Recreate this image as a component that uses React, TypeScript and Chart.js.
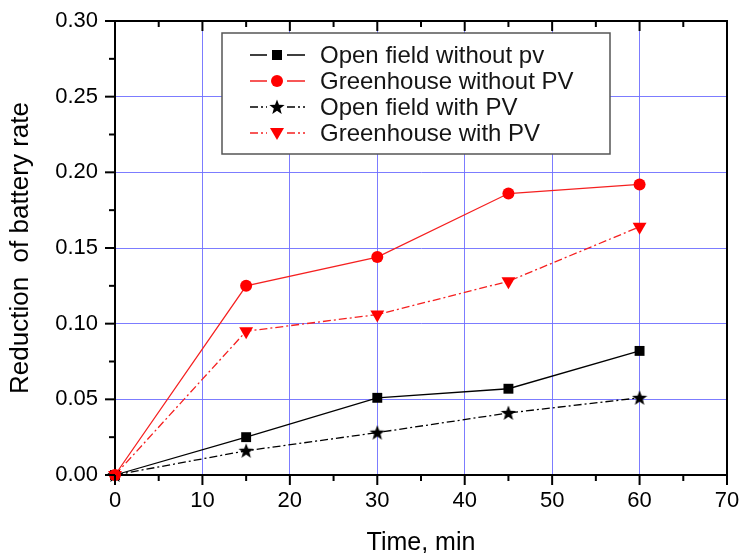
import React, { useEffect, useRef } from 'react';
import { Chart, registerables } from 'chart.js';

Chart.register(...registerables);

// ---- data ----
const timeMin = [0, 15, 30, 45, 60];
const openFieldWithoutPv = [0, 0.025, 0.051, 0.057, 0.082];
const greenhouseWithoutPv = [0, 0.125, 0.144, 0.186, 0.192];
const openFieldWithPv = [0, 0.016, 0.028, 0.041, 0.051];
const greenhouseWithPv = [0, 0.095, 0.106, 0.128, 0.164];
const seriesLabels = [
  'Open field without pv',
  'Greenhouse without PV',
  'Open field with PV',
  'Greenhouse with PV',
];
const xTickValues = [0, 10, 20, 30, 40, 50, 60, 70];
const yTickValues = [0, 0.05, 0.1, 0.15, 0.2, 0.25, 0.3];
const xTitle = 'Time, min';
const yTitle = 'Reduction  of battery rate';

const FONT = '"Liberation Sans", Arial, sans-serif';
const RED = '#ff0000';
const RED_LINE = '#f52020';
const BLACK = '#000000';
const DASH = [8, 3, 2, 3];

function makeStar(size: number, color: string): HTMLCanvasElement {
  const c = document.createElement('canvas');
  c.width = size;
  c.height = size;
  const g = c.getContext('2d')!;
  const cx = size / 2;
  const cy = size / 2 + 0.5;
  const outer = size / 2;
  const inner = outer * 0.42;
  g.beginPath();
  for (let i = 0; i < 10; i++) {
    const r = i % 2 === 0 ? outer : inner;
    const a = -Math.PI / 2 + (i * Math.PI) / 5;
    const px = cx + r * Math.cos(a);
    const py = cy + r * Math.sin(a);
    if (i === 0) g.moveTo(px, py);
    else g.lineTo(px, py);
  }
  g.closePath();
  g.fillStyle = color;
  g.fill();
  return c;
}

function drawMarker(ctx: CanvasRenderingContext2D, kind: string, x: number, y: number, color: string, star: HTMLCanvasElement) {
  ctx.save();
  ctx.fillStyle = color;
  ctx.setLineDash([]);
  if (kind === 'rect') {
    ctx.fillRect(x - 5, y - 5, 10, 10);
  } else if (kind === 'circle') {
    ctx.beginPath();
    ctx.arc(x, y, 6, 0, Math.PI * 2);
    ctx.fill();
  } else if (kind === 'star') {
    ctx.drawImage(star, x - star.width / 2, y - star.height / 2);
  } else if (kind === 'down') {
    ctx.beginPath();
    ctx.moveTo(x - 7, y - 5);
    ctx.lineTo(x + 7, y - 5);
    ctx.lineTo(x, y + 7);
    ctx.closePath();
    ctx.fill();
  }
  ctx.restore();
}

export default function App() {
  const canvasRef = useRef<HTMLCanvasElement | null>(null);

  useEffect(() => {
    document.body.style.margin = '0';
    const canvas = canvasRef.current;
    if (!canvas) return;
    const star = makeStar(16, BLACK);

    const toPoints = (ys: number[]) => timeMin.map((t, i) => ({ x: t, y: ys[i] }));

    const markerKinds = ['rect', 'circle', 'star', 'down'];
    const colors = [BLACK, RED, BLACK, RED];
    const lineColors = [BLACK, RED_LINE, BLACK, RED_LINE];
    const dashes = [[], [], DASH, DASH];

    const framePlugin = {
      id: 'frameAndLegend',
      afterDraw(chart: any) {
        const ctx: CanvasRenderingContext2D = chart.ctx;
        const { left, right, top, bottom } = chart.chartArea;
        const xs = chart.scales.x;
        const ys = chart.scales.y;
        ctx.save();
        ctx.strokeStyle = BLACK;
        ctx.lineWidth = 2;
        ctx.setLineDash([]);
        ctx.beginPath();
        ctx.moveTo(left, top);
        ctx.lineTo(right, top);
        ctx.lineTo(right, bottom);
        ctx.stroke();

        // x ticks (major + minor)
        for (let i = 0; i < xTickValues.length; i++) {
          const v = xTickValues[i];
          const px = xs.getPixelForValue(v);
          ctx.beginPath();
          ctx.moveTo(px, bottom);
          ctx.lineTo(px, bottom + 10);
          ctx.moveTo(px, top);
          ctx.lineTo(px, top + 10);
          ctx.stroke();
          if (i < xTickValues.length - 1) {
            const mv = (v + xTickValues[i + 1]) / 2;
            const mx = xs.getPixelForValue(mv);
            ctx.beginPath();
            ctx.moveTo(mx, bottom);
            ctx.lineTo(mx, bottom + 6);
            ctx.moveTo(mx, top);
            ctx.lineTo(mx, top + 6);
            ctx.stroke();
          }
        }
        // y ticks
        for (let i = 0; i < yTickValues.length; i++) {
          const v = yTickValues[i];
          const py = ys.getPixelForValue(v);
          ctx.beginPath();
          ctx.moveTo(left, py);
          ctx.lineTo(left - 10, py);
          ctx.stroke();
          if (i < yTickValues.length - 1) {
            const mv = (v + yTickValues[i + 1]) / 2;
            const my = ys.getPixelForValue(mv);
            ctx.beginPath();
            ctx.moveTo(left, my);
            ctx.lineTo(left - 6, my);
            ctx.stroke();
          }
        }

        // legend
        const bx = 222, by = 33, bw = 388, bh = 121;
        ctx.fillStyle = '#ffffff';
        ctx.fillRect(bx, by, bw, bh);
        ctx.strokeStyle = '#555555';
        ctx.lineWidth = 1.5;
        ctx.strokeRect(bx, by, bw, bh);
        const rowY = [55, 81, 107, 133];
        for (let i = 0; i < seriesLabels.length; i++) {
          const yy = rowY[i];
          ctx.strokeStyle = lineColors[i];
          ctx.lineWidth = 1.3;
          ctx.setLineDash(dashes[i]);
          ctx.beginPath();
          ctx.moveTo(250, yy);
          ctx.lineTo(267, yy);
          ctx.moveTo(287, yy);
          ctx.lineTo(305, yy);
          ctx.stroke();
          drawMarker(ctx, markerKinds[i], 277, yy, colors[i], star);
          ctx.fillStyle = '#151515';
          ctx.font = `24px ${FONT}`;
          ctx.textBaseline = 'middle';
          ctx.textAlign = 'left';
          ctx.fillText(seriesLabels[i], 320, yy + 1);
        }
        ctx.restore();
      },
    };

    const chart = new Chart(canvas, {
      type: 'line',
      data: {
        datasets: [
          {
            label: seriesLabels[0],
            data: toPoints(openFieldWithoutPv),
            borderColor: BLACK,
            backgroundColor: BLACK,
            borderWidth: 1.3,
            pointStyle: 'rect',
            pointRadius: 7,
            pointBackgroundColor: BLACK,
            pointBorderColor: BLACK,
            pointBorderWidth: 0,
            clip: false as any,
            order: 1,
          },
          {
            label: seriesLabels[1],
            data: toPoints(greenhouseWithoutPv),
            borderColor: RED_LINE,
            backgroundColor: RED,
            borderWidth: 1.3,
            pointStyle: 'circle',
            pointRadius: 6,
            pointBackgroundColor: RED,
            pointBorderColor: RED,
            pointBorderWidth: 0,
            clip: false as any,
            order: 0,
          },
          {
            label: seriesLabels[2],
            data: toPoints(openFieldWithPv),
            borderColor: BLACK,
            backgroundColor: BLACK,
            borderWidth: 1.3,
            borderDash: DASH,
            pointStyle: star as any,
            pointRadius: 8,
            clip: false as any,
            order: 2,
          },
          {
            label: seriesLabels[3],
            data: toPoints(greenhouseWithPv),
            borderColor: RED_LINE,
            backgroundColor: RED,
            borderWidth: 1.3,
            borderDash: DASH,
            pointStyle: 'triangle',
            pointRotation: 180,
            pointRadius: 8,
            pointBackgroundColor: RED,
            pointBorderColor: RED,
            pointBorderWidth: 0,
            clip: false as any,
            order: 3,
          },
        ],
      },
      options: {
        animation: false,
        responsive: true,
        maintainAspectRatio: false,
        layout: { padding: { left: 0, right: 16, top: 21, bottom: 0 } },
        plugins: {
          legend: { display: false },
          tooltip: { enabled: false },
        },
        elements: { line: { tension: 0 } },
        scales: {
          x: {
            type: 'linear',
            min: 0,
            max: 70,
            afterBuildTicks: (scale: any) => {
              scale.ticks = xTickValues.map((v) => ({ value: v }));
            },
            ticks: {
              color: BLACK,
              font: { family: FONT, size: 22 },
              padding: 13,
              maxRotation: 0,
              autoSkip: false,
              callback: (v: any) => String(v),
            },
            grid: {
              color: 'rgba(110,110,255,0.9)',
              lineWidth: 1,
              drawTicks: false,
            },
            border: { display: true, color: BLACK, width: 2 },
            title: {
              display: true,
              text: xTitle,
              color: BLACK,
              font: { family: FONT, size: 25, lineHeight: 1 },
              padding: { top: 0, bottom: -3 },
            },
            afterFit: (scale: any) => {
              scale.height = 78;
              scale.paddingRight = 0;
              scale.paddingLeft = 0;
            },
          },
          y: {
            type: 'linear',
            min: 0,
            max: 0.3,
            afterBuildTicks: (scale: any) => {
              scale.ticks = yTickValues.map((v) => ({ value: v }));
            },
            ticks: {
              color: BLACK,
              font: { family: FONT, size: 22 },
              padding: 17,
              autoSkip: false,
              callback: (v: any) => Number(v).toFixed(2),
            },
            grid: {
              color: 'rgba(110,110,255,0.9)',
              lineWidth: 1,
              drawTicks: false,
            },
            border: { display: true, color: BLACK, width: 2 },
            title: {
              display: true,
              text: yTitle,
              color: BLACK,
              font: { family: FONT, size: 26, lineHeight: 1 },
              padding: { top: 8, bottom: 0 },
            },
            afterFit: (scale: any) => {
              scale.width = 115;
              scale.paddingTop = 0;
              scale.paddingBottom = 0;
            },
          },
        },
      } as any,
      plugins: [framePlugin],
    });

    return () => {
      chart.destroy();
    };
  }, []);

  return (
    <div style={{ position: 'relative', width: 743, height: 553 }}>
      <canvas ref={canvasRef} />
    </div>
  );
}
